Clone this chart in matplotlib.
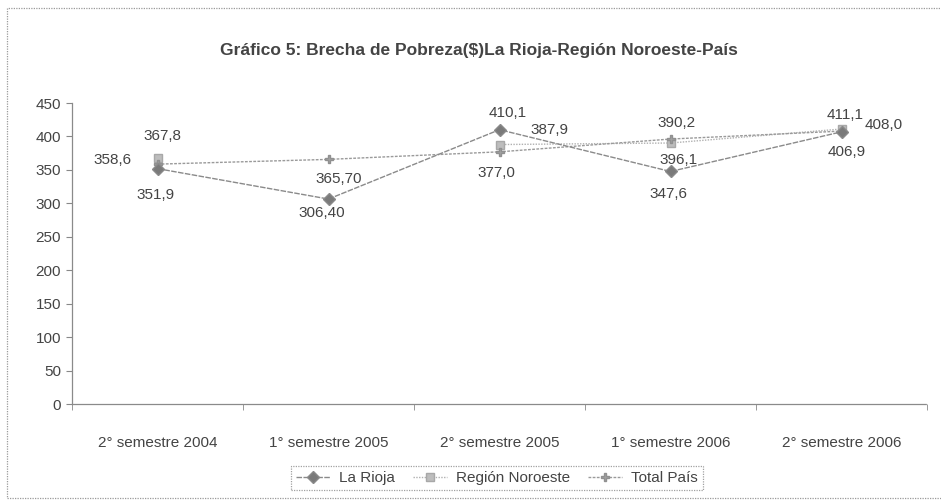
import numpy as np
import matplotlib
matplotlib.use("Agg")
import matplotlib.pyplot as plt
from matplotlib.patches import Rectangle

plt.rcParams["font.family"] = ["Liberation Sans", "DejaVu Sans"]

W, H = 941, 503

periodos = ["2° semestre 2004", "1° semestre 2005", "2° semestre 2005",
            "1° semestre 2006", "2° semestre 2006"]
la_rioja = [351.9, 306.4, 410.1, 347.6, 406.9]
noroeste = [367.8, np.nan, 387.9, 390.2, 411.1]
total_pais = [358.6, 365.7, 377.0, 396.1, 408.0]

et_rioja = ["351,9", "306,40", "410,1", "347,6", "406,9"]
et_noroeste = ["367,8", "", "387,9", "390,2", "411,1"]
et_total = ["358,6", "365,70", "377,0", "396,1", "408,0"]

# desplazamiento de cada etiqueta (px, y hacia arriba)
off_rioja = [(-2, -26), (-7, -14), (8, 17), (-2, -23), (5, -20)]
off_noroeste = [(5, 22), None, (50, 15), (6, 20), (4, 14)]
off_total = [(-45, 4), (10, -20), (-3, -21), (8, -21), (42, 6)]

TXT = "#444444"
FS = 11

fig = plt.figure(figsize=(W / 100, H / 100), dpi=100)
ax = fig.add_axes([72 / W, 1 - 404 / H, (927 - 72) / W, (404 - 103) / H])

x = np.arange(len(periodos))
ax.plot(x, la_rioja, color="#8a8a8a", lw=1.0, ls=(0, (4, 1)),
        marker="D", ms=6, mfc="#7a7a7a", mec="#8a8a8a", label="La Rioja", zorder=4)
ax.plot(x, noroeste, color="#b0b0b0", lw=1.0, ls=(0, (1, 1)),
        marker="s", ms=6, mfc="#bdbdbd", mec="#a8a8a8", label="Región Noroeste", zorder=3)
ax.plot(x, total_pais, color="#9a9a9a", lw=1.0, ls=(0, (2, 1)),
        marker="P", ms=6, mfc="#a0a0a0", mec="#909090", label="Total País", zorder=3)

for serie, etiquetas, offs in ((la_rioja, et_rioja, off_rioja),
                               (noroeste, et_noroeste, off_noroeste),
                               (total_pais, et_total, off_total)):
    for i, (v, t, o) in enumerate(zip(serie, etiquetas, offs)):
        if not t:
            continue
        ax.annotate(t, (i, v), xytext=o, textcoords="offset pixels",
                    ha="center", va="center", fontsize=FS, color=TXT)

ax.set_xlim(-0.5, len(periodos) - 0.5)
ax.set_ylim(0, 450)
ax.set_yticks(range(0, 451, 50))
ax.set_xticks(x)
ax.set_xticklabels(periodos, fontsize=FS, color=TXT)
ax.set_xticks(np.arange(-0.5, len(periodos), 1.0), minor=True)
ax.tick_params(axis="x", which="major", length=0, pad=23)
ax.tick_params(axis="x", which="minor", length=4, color="#888888", direction="out")
ax.tick_params(axis="y", labelsize=FS, labelcolor=TXT, length=4, color="#888888", pad=4)

for s in ("top", "right"):
    ax.spines[s].set_visible(False)
for s in ("left", "bottom"):
    ax.spines[s].set_color("#8a8a8a")
    ax.spines[s].set_linestyle((0, (1, 1)))
    ax.spines[s].set_linewidth(0.9)

fig.text(479 / W, 1 - 50 / H,
         "Gráfico 5: Brecha de Pobreza($)La Rioja-Región Noroeste-País",
         ha="center", va="center", fontsize=12.5, fontweight="bold", color="#444444")

leg = fig.legend(loc="center", bbox_to_anchor=(497 / W, 1 - 478 / H), ncol=3,
                 fontsize=FS, frameon=True, fancybox=False, handlelength=2.2,
                 columnspacing=1.2, handletextpad=0.6, borderpad=0.35)
for t in leg.get_texts():
    t.set_color(TXT)
leg.get_frame().set_edgecolor("#8a8a8a")
leg.get_frame().set_linestyle((0, (1, 1)))
leg.get_frame().set_linewidth(0.9)

# marco exterior punteado
fig.patches.append(Rectangle((7 / W, 1 - 498 / H), 945 / W, 490 / H,
                             transform=fig.transFigure, fill=False,
                             ec="#9a9a9a", lw=0.9, ls=(0, (1, 1))))

fig.savefig("out.png", dpi=100, facecolor="white")
